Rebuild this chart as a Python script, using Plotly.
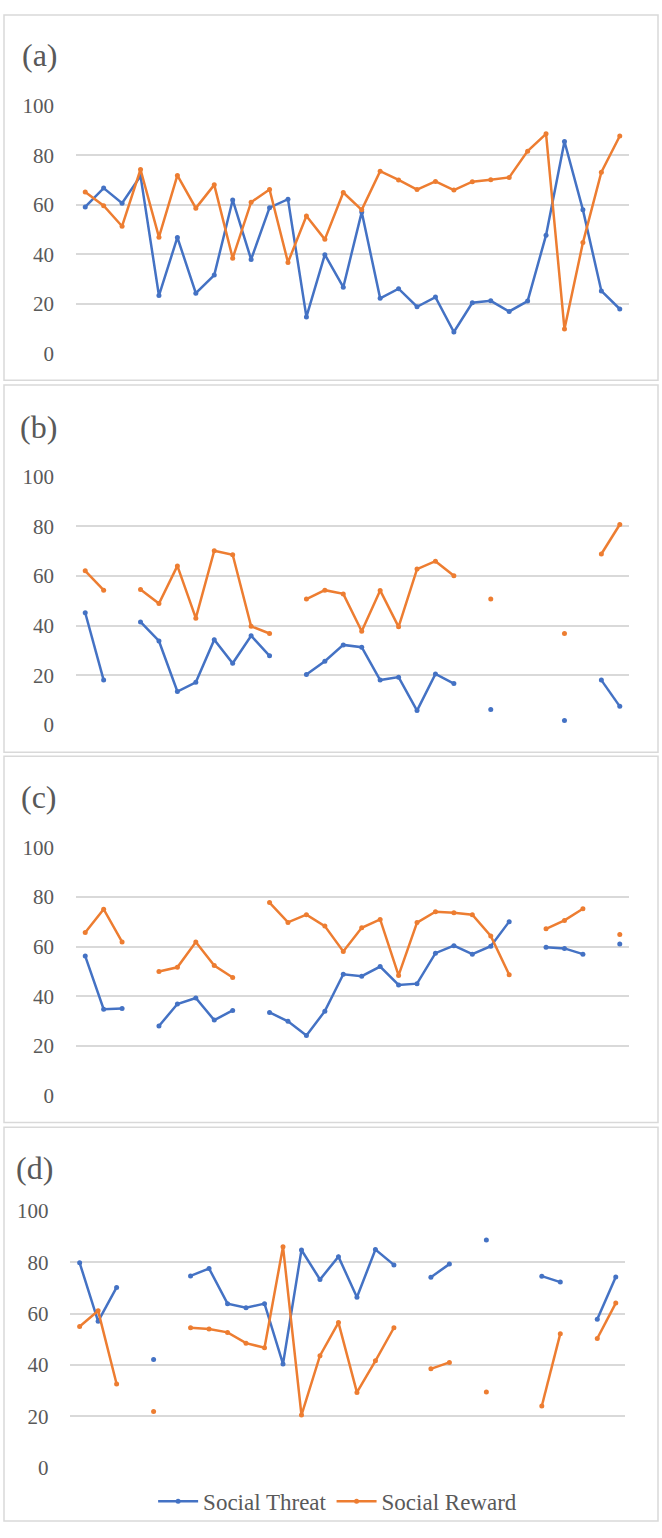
import plotly.graph_objects as go

W, H = 662, 1538

sessions = list(range(1, 31))
y_ticks = [0, 20, 40, 60, 80, 100]
panel_labels = ["(a)", "(b)", "(c)", "(d)"]
series_names = ["Social Threat", "Social Reward"]

threat_a = [59.2, 66.8, 60.7, 71.7, 23.4, 46.9, 24.4, 31.7, 62.0, 38.0, 58.9, 62.3, 14.8, 39.9, 26.8,
            57.1, 22.3, 26.2, 18.9, 22.8, 8.7, 20.5, 21.3, 17.0, 21.2, 47.8, 85.6, 58.0, 25.3, 18.0]
reward_a = [65.2, 59.7, 51.4, 74.3, 47.0, 71.9, 58.7, 68.1, 38.5, 61.1, 66.2, 36.8, 55.5, 46.1, 65.0,
            58.0, 73.6, 70.1, 66.2, 69.5, 66.0, 69.4, 70.2, 71.1, 81.7, 88.7, 9.9, 44.8, 73.2, 87.8]

threat_b = [45.2, 18.0, None, 41.5, 33.8, 13.4, 17.1, 34.3, 24.8, 35.9, 27.8, None, 20.3, 25.6, 32.2,
            31.3, 18.0, 19.2, 5.7, 20.5, 16.6, None, 6.1, None, None, None, 1.7, None, 18.0, 7.4]
reward_b = [62.1, 54.3, None, 54.6, 48.9, 64.1, 43.0, 70.2, 68.6, 39.7, 36.8, None, 50.7, 54.3, 52.8,
            37.7, 54.2, 39.5, 62.8, 66.0, 60.1, None, 50.7, None, None, None, 36.8, None, 68.9, 80.8]

threat_c = [56.2, 34.8, 35.1, None, 28.0, 36.9, 39.3, 30.4, 34.3, None, 33.5, 29.9, 24.2, 34.0, 48.9,
            48.1, 52.0, 44.6, 45.1, 57.4, 60.4, 57.0, 60.2, 70.1, None, 59.8, 59.3, 57.0, None, 61.1]
reward_c = [65.7, 75.1, 61.9, None, 50.0, 51.7, 61.9, 52.4, 47.6, None, 77.8, 69.8, 72.9, 68.3, 58.1,
            67.6, 71.0, 48.4, 69.7, 74.1, 73.7, 72.9, 64.3, 48.7, None, 67.2, 70.6, 75.3, None, 64.9]

threat_d = [79.8, 57.0, 70.2, None, 42.1, None, 74.7, 77.6, 63.9, 62.3, 63.9, 40.4, 84.8, 73.3, 82.2,
            66.4, 85.0, 79.0, None, 74.2, 79.3, None, 88.7, None, None, 74.6, 72.3, None, 57.8, 74.3]
reward_d = [55.0, 61.1, 32.6, None, 21.9, None, 54.5, 54.0, 52.7, 48.5, 46.7, 86.1, 20.5, 43.6, 56.5,
            29.3, 41.6, 54.5, None, 38.5, 41.0, None, 29.5, None, None, 24.0, 52.2, None, 50.3, 64.1]

threat_series = [threat_a, threat_b, threat_c, threat_d]
reward_series = [reward_a, reward_b, reward_c, reward_d]

BLUE = "#4472C4"
ORANGE = "#ED7D31"
GRID = "#D9D9D9"
TEXT = "#595959"
FONT = "Liberation Serif"

# pixel geometry of each panel
plot_px = [  # (x_left, x_right, y_top(100), y_bottom(0))
    (76, 629, 95.3, 347.0),
    (76, 629, 472.3, 724.0),
    (76, 629, 848.7, 1100.7),
    (70.4, 625, 1218.0, 1478.7),
]
box_px = [  # (x0, y0, x1, y1)
    (4, 3, 658, 374),
    (4, 379, 658, 752),
    (4, 756, 658, 1128),
    (4, 1133, 658, 1533),
]
label_px = [(20, 44), (18, 422), (19, 797), (14, 1174)]

fig = go.Figure()

for i in range(4):
    sfx = "" if i == 0 else str(i + 1)
    xa, ya = "x" + sfx, "y" + sfx
    for name, data, color in [(series_names[0], threat_series[i], BLUE),
                              (series_names[1], reward_series[i], ORANGE)]:
        fig.add_trace(go.Scatter(
            x=sessions, y=data, name=name, mode="lines+markers",
            line=dict(color=color, width=2.5),
            marker=dict(color=color, size=5),
            xaxis=xa, yaxis=ya, showlegend=(i == 3), legendgroup=name,
        ))
    xl, xr, yt, yb = plot_px[i]
    fig.update_layout(**{
        "xaxis" + sfx: dict(domain=[xl / W, xr / W], range=[0.5, 30.5], showgrid=False,
                            zeroline=False, showticklabels=False, showline=False,
                            anchor=ya, fixedrange=True),
        "yaxis" + sfx: dict(domain=[1 - yb / H, 1 - yt / H], range=[0, 100], tickvals=y_ticks,
                            showgrid=True, gridcolor=GRID, gridwidth=1.5, zeroline=False,
                            showline=False, anchor=xa, ticks="", ticklabelstandoff=21,
                            tickfont=dict(family=FONT, size=21, color=TEXT), fixedrange=True),
    })
    x0, y0, x1, y1 = box_px[i]
    fig.add_shape(type="rect", xref="paper", yref="paper",
                  x0=x0 / W, x1=x1 / W, y0=1 - y1 / H, y1=1 - y0 / H,
                  line=dict(color=GRID, width=1.5), fillcolor="rgba(0,0,0,0)", layer="below")
    lx, ly = label_px[i]
    fig.add_annotation(text=panel_labels[i], xref="paper", yref="paper",
                       x=lx / W, y=1 - ly / H, xanchor="left", yanchor="middle",
                       showarrow=False, font=dict(family=FONT, size=32, color=TEXT))

fig.update_layout(
    width=W, height=H, margin=dict(l=0, r=0, t=0, b=0),
    paper_bgcolor="white", plot_bgcolor="white",
    font=dict(family=FONT, color=TEXT, size=21),
    showlegend=True,
    legend=dict(orientation="h", x=0.51, xanchor="center", y=1 - 1513 / H, yanchor="middle",
                font=dict(family=FONT, size=23, color=TEXT), itemwidth=40,
                bgcolor="rgba(0,0,0,0)"),
)

fig.write_html("out.html", post_script="document.body.style.margin='0';")
